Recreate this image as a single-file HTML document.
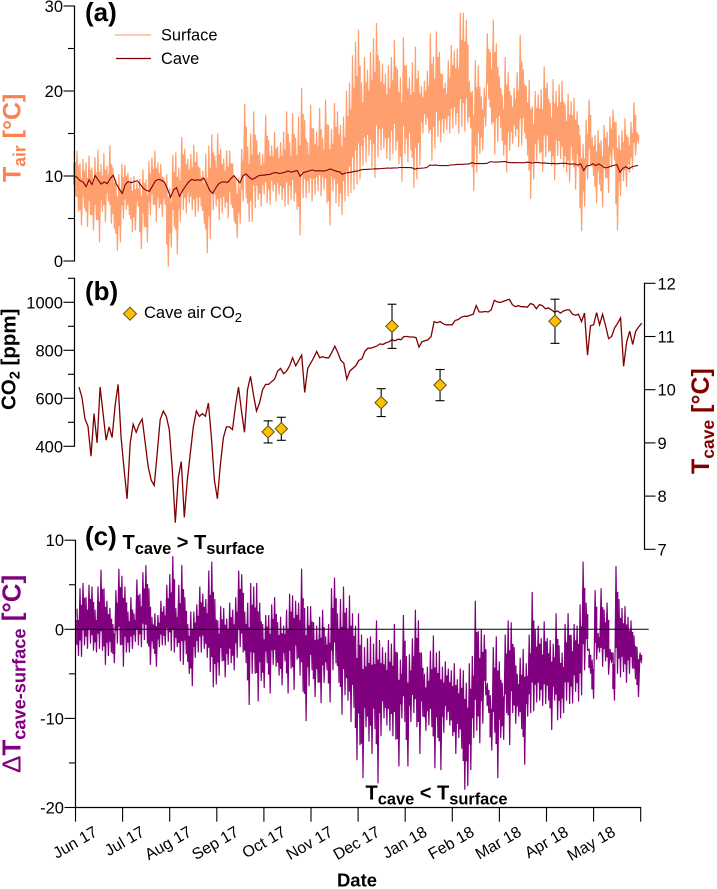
<!DOCTYPE html>
<html lang="en">
<head>
<meta charset="utf-8">
<title>Cave and surface air temperature with CO2</title>
<style>
html,body{margin:0;padding:0;background:#fff;}
svg{display:block;font-family:"Liberation Sans",sans-serif;}
text{fill:#000;}
</style>
</head>
<body>
<svg id="chart" xmlns="http://www.w3.org/2000/svg" width="717" height="889" viewBox="0 0 717 889">
<g id="panel-a"></g>
<g id="panel-b"></g>
<g id="panel-c"></g>
<g id="x-axis"></g>

<text x="85" y="21" font-size="26" font-weight="bold">(a)</text>
<text x="85" y="300" font-size="26" font-weight="bold">(b)</text>
<text x="85" y="545" font-size="26" font-weight="bold">(c)</text>

<g>
<line x1="115" x2="151" y1="35" y2="35" stroke="#FFA97F" stroke-width="1.2"/>
<text x="161" y="40.5" font-size="16.4">Surface</text>
<line x1="116" x2="151" y1="58.5" y2="58.5" stroke="#800000" stroke-width="1.2"/>
<text x="161" y="64" font-size="16.4">Cave</text>
</g>

<g>
<polygon points="130,307.2 136.5,313.7 130,320.2 123.5,313.7" fill="#FFC000" stroke="#5E4E14" stroke-width="1"/>
<text x="144" y="318" font-size="16.5">Cave air CO<tspan font-size="13" dy="4">2</tspan></text>
</g>

<text transform="translate(20.5,182) rotate(-90)" font-size="25" font-weight="bold" style="fill:#FF7F50">T<tspan font-size="17.5" dy="5" style="fill:#FF7F50">air</tspan><tspan dy="-5" style="fill:#FF7F50"> [°C]</tspan></text>
<text transform="translate(15.5,410) rotate(-90)" font-size="20.5" font-weight="bold">CO<tspan font-size="14.5" dy="4">2</tspan><tspan dy="-4"> [ppm]</tspan></text>
<text transform="translate(709,474) rotate(-90)" font-size="25" font-weight="bold" style="fill:#800000">T<tspan font-size="17.5" dy="5" style="fill:#800000">cave</tspan><tspan dy="-5" style="fill:#800000"> [°C]</tspan></text>
<text transform="translate(20.5,773) rotate(-90)" font-size="26" font-weight="bold" style="fill:#800080"><tspan font-weight="normal" style="fill:#800080">Δ</tspan>T<tspan font-size="18.2" dy="5" style="fill:#800080">cave-surface</tspan><tspan dy="-5" style="fill:#800080"> [°C]</tspan></text>

<text x="122.5" y="549" font-size="20" font-weight="bold">T<tspan font-size="16.4" dy="5">cave</tspan><tspan dy="-5"> &gt; T</tspan><tspan font-size="16.4" dy="5">surface</tspan></text>
<text x="365.5" y="799.5" font-size="20" font-weight="bold">T<tspan font-size="16.4" dy="5">cave</tspan><tspan dy="-5"> &lt; T</tspan><tspan font-size="16.4" dy="5">surface</tspan></text>
<text x="357" y="886.5" font-size="18.5" font-weight="bold" text-anchor="middle">Date</text>
</svg>

<script>
const monthLabels = ["Jun 17","Jul 17","Aug 17","Sep 17","Oct 17","Nov 17","Dec 17","Jan 18","Feb 18","Mar 18","Apr 18","May 18"];

const airTempTicks = [0,10,20,30];
const airTempMinorTicks = [5,15,25];
const co2Ticks = [400,600,800,1000];
const co2MinorTicks = [500,700,900,1100];
const caveTempTicks = [7,8,9,10,11,12];
const deltaTicks = [-20,-10,0,10];
const deltaMinorTicks = [-15,-5,5];

const surfaceHigh = [
12.9,13.0,11.5,12.0,11.6,12.4,11.0,12.2,13.1,11.4,
12.7,11.2,13.6,11.0,9.6,10.2,11.4,11.3,10.4,9.8,
10.0,9.2,9.7,10.8,9.6,11.8,12.2,13.0,11.6,11.4,
9.8,10.2,8.6,12.5,12.8,11.0,14.6,13.2,12.0,12.6,
13.7,12.8,11.0,10.6,12.6,13.6,14.9,12.4,15.0,13.2,
12.0,13.0,13.0,11.5,9.6,9.8,13.2,18.5,13.5,15.0,
17.6,14.2,12.8,12.6,17.2,14.2,13.6,15.2,13.5,14.0,
15.2,17.6,14.0,17.4,14.5,17.0,20.4,16.6,14.0,18.4,
15.6,15.2,18.0,14.5,19.0,16.0,15.5,18.6,17.6,16.0,
17.0,20.0,21.0,24.2,25.8,27.2,21.0,24.0,22.5,24.6,
26.2,28.0,23.6,23.2,22.0,23.0,24.0,26.0,22.6,21.6,
26.3,23.0,21.6,23.4,25.2,22.4,20.6,21.2,22.4,26.8,
24.0,27.0,24.6,22.0,21.0,23.6,25.4,24.8,25.0,29.2,
29.2,28.4,21.2,20.0,23.6,23.0,19.4,20.4,26.8,24.6,
28.4,25.6,21.8,19.6,24.0,22.2,19.5,20.4,22.2,26.6,
22.6,20.6,21.3,18.2,20.0,19.6,20.2,22.9,21.0,18.6,
21.4,20.0,20.8,21.2,18.4,19.7,18.8,19.2,17.6,14.8,
13.8,16.6,19.0,14.6,14.8,15.4,14.2,16.0,15.2,17.0,
17.8,16.4,14.8,15.4,16.8,14.6,16.4,18.7,15.2
];
const surfaceLow = [
7.6,5.8,4.2,6.2,4.0,5.4,3.6,4.8,2.2,5.8,
4.6,7.0,4.4,3.8,1.2,2.2,5.0,6.0,5.4,3.4,
3.6,6.4,1.4,4.0,2.2,5.4,6.6,4.6,6.2,5.2,
6.6,-0.7,1.6,4.0,0.8,4.6,6.0,5.6,6.8,6.0,
5.2,5.8,6.4,4.4,0.9,2.6,6.0,6.4,4.8,5.6,
6.2,5.0,6.6,4.6,2.7,4.4,7.0,7.4,4.6,4.6,
6.2,7.2,6.4,7.8,6.8,6.6,8.2,7.0,7.8,7.2,
6.4,6.6,7.2,7.0,6.0,3.0,7.4,7.4,8.0,7.0,
7.8,8.2,7.6,8.4,6.8,4.2,8.2,6.8,6.4,5.4,
7.0,7.6,8.0,8.4,9.0,9.6,11.2,11.6,12.4,11.0,
9.8,12.2,13.0,13.2,12.0,11.8,12.6,13.0,11.4,9.3,
12.6,11.6,13.0,8.6,9.6,11.2,15.0,16.0,15.0,11.8,
13.2,14.6,14.0,15.0,15.4,15.0,15.6,16.0,15.0,15.8,
15.2,16.2,15.6,8.2,10.4,12.6,13.0,15.8,19.0,16.0,
12.5,14.0,15.6,12.4,10.4,13.0,13.8,14.6,13.4,13.6,
15.0,12.4,7.3,9.6,11.8,12.6,10.5,12.2,12.8,11.2,
9.5,12.4,12.0,11.0,10.4,9.3,11.8,8.4,11.0,3.5,
6.4,9.6,11.4,10.0,6.8,9.0,6.3,9.8,8.0,11.0,
11.8,3.6,7.6,9.4,8.7,10.4,10.8,12.4,13.8
];

const caveTemp = [
10.05,9.85,9.45,9.31,8.75,9.55,9.0,10.05,9.55,9.05,
9.3,9.1,9.7,10.1,9.1,8.5,7.95,9.0,9.35,9.2,
9.35,9.45,9.0,8.55,8.3,8.2,8.8,9.44,9.6,9.5,
9.25,8.5,7.5,8.35,8.65,7.6,8.3,8.8,9.3,9.6,
9.5,9.55,9.5,9.75,9.1,8.3,7.95,8.6,9.1,9.3,
9.3,9.25,9.7,10.05,9.6,9.2,10.0,10.25,9.9,9.6,
9.75,10.0,10.1,10.1,10.15,10.2,10.35,10.4,10.3,10.35,
10.45,10.6,10.45,10.55,10.65,9.95,10.4,10.5,10.6,10.72,
10.6,10.62,10.6,10.6,10.7,10.82,10.7,10.55,10.5,10.2,
10.35,10.4,10.45,10.55,10.58,10.72,10.78,10.78,10.8,10.82,
10.86,10.85,10.88,10.9,10.94,10.92,10.95,10.94,11.0,11.0,
10.99,10.99,10.98,10.8,10.9,10.92,10.94,11.0,11.28,11.26,
11.28,11.24,11.22,11.22,11.22,11.3,11.32,11.36,11.38,11.38,
11.4,11.42,11.58,11.46,11.46,11.47,11.46,11.5,11.68,11.65,
11.64,11.66,11.68,11.7,11.6,11.56,11.58,11.56,11.56,11.55,
11.62,11.6,11.52,11.6,11.58,11.52,11.54,11.5,11.46,11.48,
11.44,11.48,11.5,11.5,11.42,11.4,11.42,11.28,11.44,10.65,
11.2,11.22,11.45,11.22,11.42,11.2,10.96,11.0,11.16,11.25,
11.35,10.44,10.9,11.1,10.85,11.1,11.18,11.25
];

const co2SampleMonths = [4.09,4.37,6.49,6.72,7.74,10.18];
const co2Values = [460,473,582,900,655,921];
const co2Errors = [46,48,58,92,65,92];

const deltaHigh = [
2.3,4.6,5.2,3.6,5.0,4.8,2.2,4.8,6.7,4.6,
3.2,2.4,0.6,4.4,6.8,6.0,4.8,2.0,3.6,1.8,
5.6,4.0,6.4,7.2,4.6,1.4,1.8,1.6,3.2,2.6,
5.0,6.2,8.2,2.4,5.0,7.2,3.6,0.6,2.0,2.0,
2.8,4.8,4.0,3.4,6.6,7.6,3.4,1.0,2.6,2.4,
1.2,3.0,2.2,3.6,6.6,6.2,2.0,3.0,5.2,4.8,
5.2,3.0,0.6,1.6,1.6,2.8,3.6,0.8,1.4,0.4,
2.2,4.0,3.8,3.2,3.0,6.8,2.4,2.6,2.6,0.8,
0.4,1.4,2.2,-0.8,0.6,4.6,5.8,1.8,3.4,4.8,
2.4,3.8,1.8,0.4,1.8,-0.6,-2.0,-1.0,-0.8,-1.6,
1.0,-1.2,-2.0,-2.6,-1.2,-1.6,0.6,-2.6,-3.4,1.6,
-3.0,-2.8,-1.0,2.2,1.0,-2.6,-5.0,-4.2,-2.4,-0.7,
-2.6,-2.4,-4.2,-3.6,-4.4,-4.6,-3.8,-5.6,-4.4,-4.6,
-6.0,-3.8,-3.0,3.2,-0.2,0.0,-0.6,-6.0,-7.4,-2.0,
-0.8,-3.6,-6.0,-0.6,1.0,0.8,-2.0,-5.0,-3.2,-2.2,
-3.8,-0.6,4.2,0.0,0.4,-1.0,0.9,-1.0,-1.2,-1.6,
1.8,-1.8,-2.6,0.6,1.8,-0.6,0.6,0.4,2.8,7.6,
3.0,-2.2,-3.4,4.4,-0.4,4.6,2.2,3.0,-2.2,-2.6,
7.1,3.4,2.4,2.6,1.4,1.0,-0.7,-2.0,-2.6
];
const deltaLow = [
-3.0,-3.1,-1.8,-2.2,-1.6,-2.4,-2.6,-2.2,-2.4,-4.0,
-3.0,-2.6,-3.8,-1.6,-1.8,-4.2,-2.6,-2.6,-2.2,-1.4,
-1.8,-2.0,-1.2,-1.6,-4.0,-2.2,-4.2,-2.0,-1.8,-1.8,
-1.4,-2.4,-2.6,-2.0,-3.6,-4.0,-2.8,-5.0,-6.4,-3.2,
-2.6,-2.6,-2.2,-3.2,-4.8,-6.5,-6.2,-5.2,-3.6,-5.4,
-4.0,-3.8,-4.6,-3.2,-2.0,-2.6,-3.8,-8.5,-5.0,-5.0,
-8.1,-5.8,-6.6,-3.8,-7.2,-4.0,-4.2,-5.2,-6.3,-3.6,
-7.2,-4.4,-6.8,-3.4,-5.2,-7.0,-10.3,-6.4,-4.6,-7.6,
-6.0,-8.3,-6.0,-4.6,-8.2,-4.6,-3.8,-6.0,-9.6,-7.4,
-8.0,-10.4,-8.8,-14.7,-13.0,-16.7,-11.0,-12.6,-14.0,-11.2,
-17.3,-12.0,-10.0,-10.8,-11.4,-12.0,-12.4,-15.4,-10.0,-10.4,
-15.4,-10.4,-9.4,-11.0,-14.0,-9.8,-11.4,-10.8,-11.0,-15.6,
-12.2,-15.8,-11.6,-10.2,-10.8,-12.0,-14.0,-12.2,-13.4,-18.0,
-17.6,-15.8,-12.2,-11.4,-12.8,-10.6,-7.4,-9.4,-13.6,-11.6,
-16.7,-12.2,-12.4,-9.4,-13.0,-9.4,-10.6,-9.8,-11.2,-15.2,
-9.8,-9.4,-9.2,-8.2,-8.0,-8.6,-8.4,-8.0,-11.3,-8.0,
-10.2,-10.0,-9.4,-8.0,-8.4,-8.3,-7.0,-8.1,-7.4,-4.6,
-2.4,-5.0,-7.8,-3.4,-2.6,-4.2,-3.6,-5.1,-3.8,-8.0,
-5.0,-5.4,-4.8,-6.0,-5.0,-4.4,-5.6,-7.6,-3.8
];

const SVG_NS = "http://www.w3.org/2000/svg";
const panelA = document.getElementById("panel-a");
const panelB = document.getElementById("panel-b");
const panelC = document.getElementById("panel-c");
const xAxis = document.getElementById("x-axis");

function yAir(v){ return 261 - v * 8.5; }
function yCave(v){ return 549.3 - (v - 7) * 53.2; }
function yCo2(v){ return 446.3 - (v - 400) * 0.24; }
function yDelta(v){ return 629.3 - v * 8.91; }
function xMonth(m){ return 75.5 + m * 47.1; }
function xSeries(x0, x1, i, n){ return x0 + (x1 - x0) * i / (n - 1); }

function create(tag, parent){
  const el = document.createElementNS(SVG_NS, tag);
  parent.appendChild(el);
  return el;
}
function setLine(el, x1, y1, x2, y2, width){
  el.setAttribute("x1", x1);
  el.setAttribute("y1", y1);
  el.setAttribute("x2", x2);
  el.setAttribute("y2", y2);
  el.setAttribute("stroke", "#000");
  el.setAttribute("stroke-width", width);
}
function drawLeftTicks(parent, axisX, major, minor, scale, name){
  major.forEach(function(v){
    const tick = create("line", parent);
    setLine(tick, axisX - 11, scale(v), axisX, scale(v), 1.1);
    
    
    const label = create("text", parent);
    label.setAttribute("x", axisX - 11.5);
    label.setAttribute("y", scale(v) + 6);
    label.setAttribute("text-anchor", "end");
    label.setAttribute("font-size", "16.5");
    label.textContent = String(v);
    
    
  });
  minor.forEach(function(v){
    const tick = create("line", parent);
    setLine(tick, axisX - 6.5, scale(v), axisX, scale(v), 1.1);
    
    
  });
}
function zigzagPoints(high, low, x0, x1, scale){
  const pts = [];
  const n = Math.min(high.length, low.length);
  const step = (x1 - x0) / (n - 1);
  for (let i = 0; i < n; i++){
    const x = xSeries(x0, x1, i, n);
    pts.push(x.toFixed(1) + "," + scale(high[i]).toFixed(1));
    pts.push((x + step / 2).toFixed(1) + "," + scale(low[i]).toFixed(1));
  }
  return pts.join(" ");
}
/* dense middle of each day's swing: a wide bar covering the central part of the high-low range */
function innerBarsPath(high, low, x0, x1, scale, share){
  const parts = [];
  const n = Math.min(high.length, low.length);
  const step = (x1 - x0) / (n - 1);
  for (let i = 0; i < n; i++){
    const x = xSeries(x0, x1, i, n) + step / 4;
    const mid = (high[i] + low[i]) / 2;
    const half = (high[i] - low[i]) * share / 2;
    parts.push("M" + x.toFixed(1) + " " + scale(mid + half).toFixed(1) + "V" + scale(mid - half).toFixed(1));
  }
  return parts.join("");
}
function linePoints(values, x0, x1, scale){
  return values.map(function(v, i){
    return xSeries(x0, x1, i, values.length).toFixed(1) + "," + scale(v).toFixed(1);
  }).join(" ");
}

/* panel a */
const surfaceInner = create("path", panelA);
surfaceInner.setAttribute("d", innerBarsPath(surfaceHigh, surfaceLow, 74, 637, yAir, 0.52));
surfaceInner.setAttribute("fill", "none");
surfaceInner.setAttribute("stroke", "#FF9F6E");
surfaceInner.setAttribute("stroke-width", "3.1");



const surfaceLine = create("polyline", panelA);
surfaceLine.setAttribute("points", zigzagPoints(surfaceHigh, surfaceLow, 74, 637, yAir));
surfaceLine.setAttribute("fill", "none");
surfaceLine.setAttribute("stroke", "#FF9F6E");
surfaceLine.setAttribute("stroke-width", "1.2");
surfaceLine.setAttribute("stroke-linejoin", "bevel");



const caveLineA = create("polyline", panelA);
caveLineA.setAttribute("points", linePoints(caveTemp, 74, 638, yAir));
caveLineA.setAttribute("fill", "none");
caveLineA.setAttribute("stroke", "#7F0000");
caveLineA.setAttribute("stroke-width", "1.1");



const axisA = create("line", panelA);
setLine(axisA, 74.5, yAir(30) - 0.5, 74.5, yAir(0) + 0.5, 1.2);


drawLeftTicks(panelA, 74.5, airTempTicks, airTempMinorTicks, yAir, "air-temperature");

/* panel b */
const caveLineB = create("polyline", panelB);
caveLineB.setAttribute("points", linePoints(caveTemp, 79, 641.7, yCave));
caveLineB.setAttribute("fill", "none");
caveLineB.setAttribute("stroke", "#800000");
caveLineB.setAttribute("stroke-width", "1.3");



const axisB = create("line", panelB);
setLine(axisB, 74.5, yCo2(1100) - 0.5, 74.5, yCo2(400) + 0.5, 1.2);


drawLeftTicks(panelB, 74.5, co2Ticks, co2MinorTicks, yCo2, "co2");

const axisR = create("line", panelB);
setLine(axisR, 644.5, yCave(12) - 0.5, 644.5, yCave(7) + 0.5, 1.2);


caveTempTicks.forEach(function(v){
  const tick = create("line", panelB);
  setLine(tick, 644.5, yCave(v), 655.5, yCave(v), 1.1);
  
  
  const label = create("text", panelB);
  label.setAttribute("x", 657.5);
  label.setAttribute("y", yCave(v) + 6);
  label.setAttribute("font-size", "16.5");
  label.textContent = String(v);
  
  
});

co2Values.forEach(function(v, i){
  const x = xMonth(co2SampleMonths[i]);
  const top = yCo2(v + co2Errors[i]);
  const bottom = yCo2(v - co2Errors[i]);
  const y = yCo2(v);
  const bar = create("line", panelB);
  setLine(bar, x, top, x, bottom, 1.1);
  
  
  const capTop = create("line", panelB);
  setLine(capTop, x - 4.5, top, x + 4.5, top, 1.1);
  
  
  const capBottom = create("line", panelB);
  setLine(capBottom, x - 4.5, bottom, x + 4.5, bottom, 1.1);
  
  
  const marker = create("polygon", panelB);
  marker.setAttribute("points", x + "," + (y - 6.2) + " " + (x + 6.2) + "," + y + " " + x + "," + (y + 6.2) + " " + (x - 6.2) + "," + y);
  marker.setAttribute("fill", "#FFC000");
  marker.setAttribute("stroke", "#5E4E14");
  marker.setAttribute("stroke-width", "1");
  
  
});

/* panel c */
const deltaInner = create("path", panelC);
deltaInner.setAttribute("d", innerBarsPath(deltaHigh, deltaLow, 77, 640, yDelta, 0.52));
deltaInner.setAttribute("fill", "none");
deltaInner.setAttribute("stroke", "#800080");
deltaInner.setAttribute("stroke-width", "3.1");



const deltaLine = create("polyline", panelC);
deltaLine.setAttribute("points", zigzagPoints(deltaHigh, deltaLow, 77, 640, yDelta));
deltaLine.setAttribute("fill", "none");
deltaLine.setAttribute("stroke", "#800080");
deltaLine.setAttribute("stroke-width", "1.2");
deltaLine.setAttribute("stroke-linejoin", "bevel");



const zeroLine = create("line", panelC);
setLine(zeroLine, 75.5, yDelta(0), 648.7, yDelta(0), 1);



const axisC = create("line", panelC);
setLine(axisC, 75.5, yDelta(10) - 0.5, 75.5, yDelta(-20) + 0.5, 1.2);


drawLeftTicks(panelC, 75.5, deltaTicks, deltaMinorTicks, yDelta, "temperature-difference");

/* date axis */
const axisX = create("line", xAxis);
setLine(axisX, 75, yDelta(-20), xMonth(monthLabels.length) + 0.5, yDelta(-20), 1.2);


for (let m = 0; m <= monthLabels.length; m++){
  const tick = create("line", xAxis);
  setLine(tick, xMonth(m), yDelta(-20), xMonth(m), 821.7, 1.1);
  
  
}
monthLabels.forEach(function(name, m){
  const label = create("text", xAxis);
  const ax = xMonth(m) + 23;
  label.setAttribute("transform", "translate(" + ax + ",835) rotate(-30)");
  label.setAttribute("text-anchor", "end");
  label.setAttribute("font-size", "16");
  label.textContent = name;
  
  
});
</script>
</body>
</html>
